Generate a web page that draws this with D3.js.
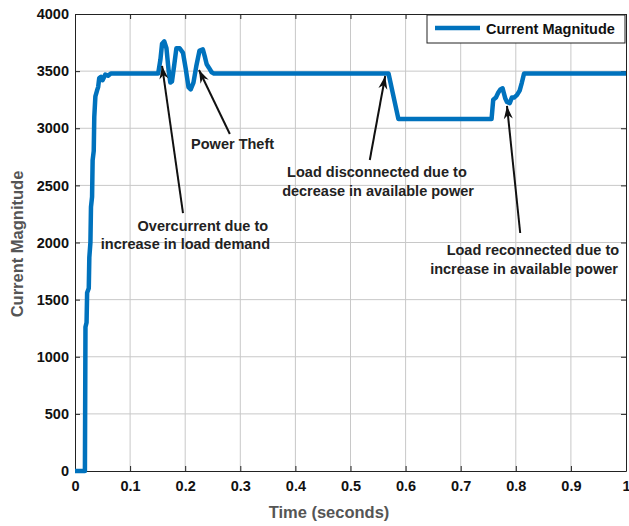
<!DOCTYPE html>
<html>
<head>
<meta charset="utf-8">
<script src="https://cdn.jsdelivr.net/npm/d3@7"></script>
<style>
  body { margin: 0; background: #fff; }
  svg text { font-family: "Liberation Sans", Arial, Helvetica, sans-serif; font-weight: bold; }
</style>
</head>
<body>
<script>
// data
var timeValues = [0, 0.018, 0.019, 0.021, 0.022, 0.025, 0.026, 0.028, 0.029, 0.031, 0.032, 0.034, 0.035,
    0.037, 0.040, 0.042, 0.044, 0.047, 0.050, 0.055, 0.060, 0.065,
    0.151, 0.155, 0.158, 0.162, 0.166, 0.170, 0.173, 0.176, 0.180, 0.184, 0.190, 0.196, 0.201,
    0.206, 0.210, 0.215, 0.220, 0.226, 0.232, 0.236, 0.239, 0.243, 0.248, 0.252,
    0.569, 0.587, 0.756, 0.759, 0.764, 0.768, 0.772, 0.776, 0.781, 0.784, 0.789, 0.793, 0.797,
    0.802, 0.807, 0.811, 0.815, 1.0];
var currentValues = [0, 0, 1260, 1300, 1560, 1600, 1870, 2000, 2310, 2400, 2720, 2800, 3100,
    3280, 3330, 3360, 3440, 3450, 3420, 3470, 3460, 3480,
    3480, 3600, 3740, 3760, 3700, 3500, 3400, 3410, 3550, 3700, 3700, 3660, 3520,
    3360, 3340, 3400, 3540, 3680, 3690, 3620, 3560, 3530, 3490, 3480,
    3480, 3080, 3080, 3250, 3270, 3310, 3340, 3350, 3260, 3230, 3220, 3270, 3270,
    3290, 3330, 3400, 3480, 3480];
var xTicks = [0, 0.1, 0.2, 0.3, 0.4, 0.5, 0.6, 0.7, 0.8, 0.9, 1];
var yTicks = [0, 500, 1000, 1500, 2000, 2500, 3000, 3500, 4000];
var seriesName = "Current Magnitude";

// annotations: arrow tail/tip in data units, text lines with centre and baseline
var notes = [
    {tail: [0.196, 2258], tip: [0.158, 3545],
     lines: [{t: "Overcurrent due to", x: 0.232, y: 2100}, {t: "increase in load demand", x: 0.2005, y: 1939}]},
    {tail: [0.281, 2950], tip: [0.225, 3510],
     lines: [{t: "Power Theft", x: 0.286, y: 2818}]},
    {tail: [0.535, 2722], tip: [0.563, 3457],
     lines: [{t: "Load disconnected due to", x: 0.548, y: 2573}, {t: "decrease in available power", x: 0.550, y: 2407}]},
    {tail: [0.808, 2083], tip: [0.784, 3195],
     lines: [{t: "Load reconnected due to", x: 0.831, y: 1891}, {t: "increase in available power", x: 0.815, y: 1724}]}
];

var margin = {top: 14, right: 3, bottom: 55, left: 75},
    canvasWidth = 629,
    canvasHeight = 526,
    plotWidth = canvasWidth - margin.left - margin.right,
    plotHeight = canvasHeight - margin.top - margin.bottom;

var figure = d3.select("body")
    .append("svg")
        .attr("width", canvasWidth)
        .attr("height", canvasHeight);

var x = d3.scaleLinear()
    .range([margin.left, margin.left + plotWidth])
    .domain([0, 1]);
var y = d3.scaleLinear()
    .range([margin.top + plotHeight, margin.top])
    .domain([0, 4000]);

// grid
var grid = figure.append("g").attr("class", "grid");
grid.selectAll("line.vx")
    .data(xTicks.slice(1, -1))
    .enter().append("line")
    .attr("x1", function(d) { return x(d); })
    .attr("x2", function(d) { return x(d); })
    .attr("y1", y(0)).attr("y2", y(4000))
    .attr("stroke", "#c8c8c8").attr("stroke-width", 1);
grid.selectAll("line.hy")
    .data(yTicks.slice(1, -1))
    .enter().append("line")
    .attr("y1", function(d) { return y(d); })
    .attr("y2", function(d) { return y(d); })
    .attr("x1", x(0)).attr("x2", x(1))
    .attr("stroke", "#c8c8c8").attr("stroke-width", 1);

// axes, ticks pointing inward on all sides
function styleAxis(g) {
    g.select(".domain").attr("stroke", "#222");
    g.selectAll(".tick line").attr("stroke", "#222");
    g.selectAll("text").attr("fill", "#111").style("font-size", "14.5px");
}
figure.append("g")
    .attr("transform", "translate(0," + y(0) + ")")
    .call(d3.axisBottom(x).tickValues(xTicks).tickSize(-5).tickSizeOuter(0).tickPadding(10)
        .tickFormat(d3.format("")))
    .call(styleAxis);
figure.append("g")
    .attr("transform", "translate(0," + y(4000) + ")")
    .call(d3.axisTop(x).tickValues(xTicks).tickSize(-5).tickSizeOuter(0).tickFormat(""))
    .call(styleAxis);
figure.append("g")
    .attr("transform", "translate(" + x(0) + ",0)")
    .call(d3.axisLeft(y).tickValues(yTicks).tickSize(-5).tickSizeOuter(0).tickPadding(6)
        .tickFormat(d3.format("d")))
    .call(styleAxis);
figure.append("g")
    .attr("transform", "translate(" + x(1) + ",0)")
    .call(d3.axisRight(y).tickValues(yTicks).tickSize(-5).tickSizeOuter(0).tickFormat(""))
    .call(styleAxis);

// the curve
var series = timeValues.map(function(t, i) { return {t: t, v: currentValues[i]}; });
figure.append("path")
    .datum(series)
    .attr("fill", "none")
    .attr("stroke", "#0072bd")
    .attr("stroke-width", 4.5)
    .attr("stroke-linejoin", "round")
    .attr("d", d3.line()
        .x(function(d) { return x(d.t); })
        .y(function(d) { return y(d.v); }));

// arrowhead marker
figure.append("defs").append("marker")
    .attr("id", "head")
    .attr("viewBox", "-14 -6 15 12")
    .attr("refX", 0).attr("refY", 0)
    .attr("markerWidth", 15).attr("markerHeight", 12)
    .attr("markerUnits", "userSpaceOnUse")
    .attr("orient", "auto")
    .append("path")
    .attr("d", "M0,0 L-13,-4.5 L-9,0 L-13,4.5 Z")
    .attr("fill", "#111");

var ann = figure.append("g").attr("class", "notes");
notes.forEach(function(n) {
    ann.append("line")
        .attr("x1", x(n.tail[0])).attr("y1", y(n.tail[1]))
        .attr("x2", x(n.tip[0])).attr("y2", y(n.tip[1]))
        .attr("stroke", "#111").attr("stroke-width", 2)
        .attr("marker-end", "url(#head)");
    n.lines.forEach(function(l) {
        ann.append("text")
            .attr("x", x(l.x)).attr("y", y(l.y))
            .attr("text-anchor", "middle")
            .attr("fill", "#222")
            .style("font-size", "14.5px")
            .text(l.t);
    });
});

// legend
var legend = figure.append("g").attr("transform", "translate(427,15)");
legend.append("rect")
    .attr("width", 198).attr("height", 28)
    .attr("fill", "#fff").attr("stroke", "#222");
legend.append("line")
    .attr("x1", 8).attr("x2", 53).attr("y1", 13).attr("y2", 13)
    .attr("stroke", "#0072bd").attr("stroke-width", 4.5);
legend.append("text")
    .attr("x", 59).attr("y", 19)
    .style("font-size", "14.5px")
    .attr("fill", "#111")
    .text(seriesName);

// axis labels
figure.append("text")
    .attr("x", 329).attr("y", 518)
    .attr("text-anchor", "middle")
    .attr("fill", "#555")
    .style("font-size", "16.5px")
    .text("Time (seconds)");
figure.append("text")
    .attr("transform", "translate(23,244) rotate(-90)")
    .attr("text-anchor", "middle")
    .attr("fill", "#555")
    .style("font-size", "16.5px")
    .text("Current Magnitude");
</script>
</body>
</html>
